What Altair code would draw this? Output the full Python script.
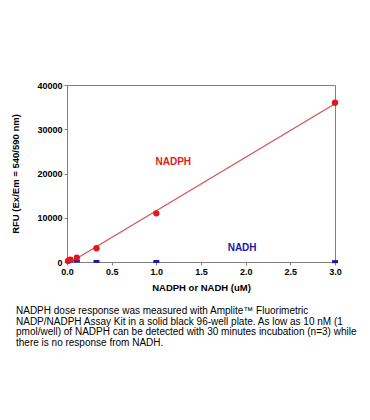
import altair as alt
import pandas as pd
import numpy as np

conc = [0.012, 0.037, 0.11, 0.33, 1.0, 3.0]
nadph = [250, 550, 1000, 3100, 11000, 36000]
nadh = [200, 250, 220, 120, 120, 80]

caption = [
    "NADPH dose response was measured with Amplite\u2122 Fluorimetric",
    "NADP/NADPH Assay Kit in a solid black 96-well plate. As low as 10 nM (1",
    "pmol/well) of NADPH can be detected with 30 minutes incubation (n=3) while",
    "there is no response from NADH.",
]

df_p = pd.DataFrame({"x": conc, "y": nadph})
df_h = pd.DataFrame({"x": conc, "y": nadh})
k, b = np.polyfit(conc[1:], nadph[1:], 1)
fit_x = [0.07, 3.0]
df_fit = pd.DataFrame({"x": fit_x, "y": [k * v + b for v in fit_x]})
df_lab = pd.DataFrame({"x": [1.19, 1.96], "y": [22700, 3200], "t": ["NADPH", "NADH"], "c": ["#e0201c", "#1a1aa8"]})

xs = alt.X("x:Q", scale=alt.Scale(domain=[0, 3], nice=False),
           axis=alt.Axis(title="NADPH or NADH (uM)", values=[0, 0.5, 1, 1.5, 2, 2.5, 3], format=".1f",
                         labelFlush=False, titlePadding=6))
ys = alt.Y("y:Q", scale=alt.Scale(domain=[0, 40000], nice=False),
           axis=alt.Axis(title="RFU (Ex/Em = 540/590 nm)", values=[0, 10000, 20000, 30000, 40000], format="d",
                         labelFlush=False, titlePadding=16))

line = alt.Chart(df_fit).mark_line(color="#d65050", strokeWidth=1.2).encode(x=xs, y=ys)
pts = alt.Chart(df_p).mark_point(filled=True, shape="circle", size=40, color="#e8141c", opacity=1).encode(x=xs, y=ys)
sq = alt.Chart(df_h).mark_point(filled=True, shape="M-1,-0.5L1,-0.5L1,0.5L-1,0.5Z", size=36, color="#1a1aa8", opacity=1).encode(x=xs, y=ys)
lab = alt.Chart(df_lab).mark_text(fontWeight="bold", fontSize=10, font="Liberation Sans").encode(
    x=xs, y=ys, text="t:N", color=alt.Color("c:N", scale=None))
cap = alt.Chart(pd.DataFrame({"a": [0]})).mark_text(
    text=caption, align="left", baseline="top", fontSize=10, font="Liberation Sans",
    lineHeight=10.6, color="black").encode(x=alt.value(-51), y=alt.value(221))

chart = alt.layer(line, sq, pts, lab, cap).properties(
    width=268, height=177,
    padding={"left": 59, "top": 77, "right": 27, "bottom": 110},
    autosize=alt.AutoSizeParams(type="none"),
).configure_view(stroke="#808080", strokeWidth=1).configure_axis(
    domainColor="#808080", tickColor="#808080", tickSize=3, grid=False,
    labelFont="Liberation Sans", labelFontWeight="bold", labelFontSize=9, labelColor="black",
    titleFont="Liberation Sans", titleFontWeight="bold", titleFontSize=9.5, titleColor="black",
    labelPadding=2,
)

chart.save("out.html", embed_options={"renderer": "svg", "actions": False})
